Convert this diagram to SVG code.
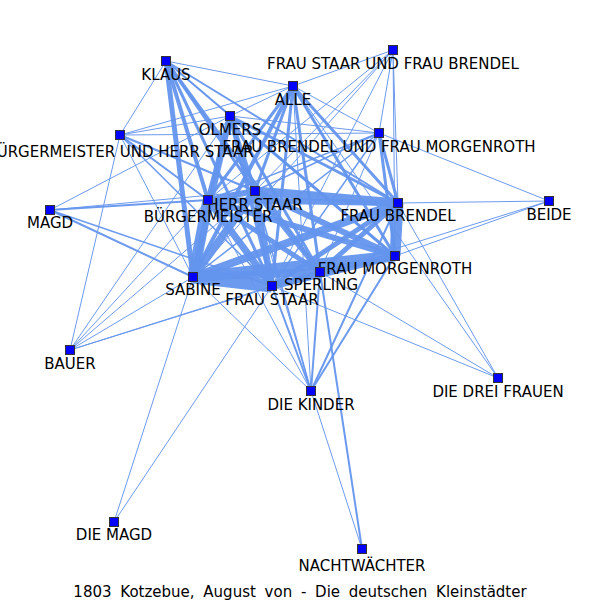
<svg xmlns="http://www.w3.org/2000/svg" width="600" height="600" viewBox="0 0 600 600">
<style>
.e line{stroke:#6495ED;stroke-opacity:0.95}
.n rect{fill:#0000ff;stroke:#333;stroke-width:1}
text{font-family:"DejaVu Sans","Liberation Sans",sans-serif;font-size:15px;fill:#000;text-anchor:middle}
</style>
<rect width="600" height="600" fill="#fff"/>
<g id="connectors" class="e">
<line x1="193" y1="277" x2="272" y2="286" stroke-width="13"/>
<line x1="193" y1="277" x2="208" y2="200" stroke-width="11"/>
<line x1="193" y1="277" x2="395" y2="256" stroke-width="11"/>
<line x1="193" y1="277" x2="398" y2="203" stroke-width="8"/>
<line x1="193" y1="277" x2="255" y2="191" stroke-width="8"/>
<line x1="193" y1="277" x2="320" y2="272" stroke-width="8"/>
<line x1="208" y1="200" x2="255" y2="191" stroke-width="6"/>
<line x1="208" y1="200" x2="398" y2="203" stroke-width="6"/>
<line x1="208" y1="200" x2="395" y2="256" stroke-width="6"/>
<line x1="208" y1="200" x2="272" y2="286" stroke-width="7"/>
<line x1="208" y1="200" x2="320" y2="272" stroke-width="5"/>
<line x1="255" y1="191" x2="398" y2="203" stroke-width="9"/>
<line x1="255" y1="191" x2="395" y2="256" stroke-width="6"/>
<line x1="255" y1="191" x2="272" y2="286" stroke-width="6"/>
<line x1="255" y1="191" x2="320" y2="272" stroke-width="5"/>
<line x1="398" y1="203" x2="395" y2="256" stroke-width="11"/>
<line x1="398" y1="203" x2="320" y2="272" stroke-width="5"/>
<line x1="398" y1="203" x2="272" y2="286" stroke-width="5"/>
<line x1="395" y1="256" x2="272" y2="286" stroke-width="7"/>
<line x1="395" y1="256" x2="320" y2="272" stroke-width="5"/>
<line x1="272" y1="286" x2="320" y2="272" stroke-width="4"/>
<line x1="230" y1="116" x2="208" y2="200" stroke-width="5"/>
<line x1="230" y1="116" x2="255" y2="191" stroke-width="4"/>
<line x1="230" y1="116" x2="193" y2="277" stroke-width="6"/>
<line x1="230" y1="116" x2="272" y2="286" stroke-width="4"/>
<line x1="230" y1="116" x2="320" y2="272" stroke-width="3"/>
<line x1="230" y1="116" x2="398" y2="203" stroke-width="3"/>
<line x1="230" y1="116" x2="395" y2="256" stroke-width="3"/>
<line x1="230" y1="116" x2="293" y2="86" stroke-width="1"/>
<line x1="230" y1="116" x2="166" y2="61" stroke-width="1"/>
<line x1="166" y1="61" x2="208" y2="200" stroke-width="4"/>
<line x1="166" y1="61" x2="255" y2="191" stroke-width="3"/>
<line x1="166" y1="61" x2="193" y2="277" stroke-width="5"/>
<line x1="166" y1="61" x2="272" y2="286" stroke-width="3"/>
<line x1="166" y1="61" x2="320" y2="272" stroke-width="3"/>
<line x1="166" y1="61" x2="395" y2="256" stroke-width="2"/>
<line x1="166" y1="61" x2="398" y2="203" stroke-width="2"/>
<line x1="166" y1="61" x2="293" y2="86" stroke-width="1"/>
<line x1="166" y1="61" x2="120" y2="135" stroke-width="1"/>
<line x1="293" y1="86" x2="208" y2="200" stroke-width="3"/>
<line x1="293" y1="86" x2="255" y2="191" stroke-width="3"/>
<line x1="293" y1="86" x2="193" y2="277" stroke-width="4"/>
<line x1="293" y1="86" x2="272" y2="286" stroke-width="3"/>
<line x1="293" y1="86" x2="320" y2="272" stroke-width="3"/>
<line x1="293" y1="86" x2="395" y2="256" stroke-width="3"/>
<line x1="293" y1="86" x2="398" y2="203" stroke-width="3"/>
<line x1="293" y1="86" x2="379" y2="133" stroke-width="1"/>
<line x1="293" y1="86" x2="393" y2="50" stroke-width="1"/>
<line x1="293" y1="86" x2="120" y2="135" stroke-width="1"/>
<line x1="293" y1="86" x2="311" y2="391" stroke-width="1"/>
<line x1="293" y1="86" x2="498" y2="378" stroke-width="1"/>
<line x1="120" y1="135" x2="208" y2="200" stroke-width="2"/>
<line x1="120" y1="135" x2="255" y2="191" stroke-width="2"/>
<line x1="120" y1="135" x2="193" y2="277" stroke-width="1"/>
<line x1="120" y1="135" x2="272" y2="286" stroke-width="1.5"/>
<line x1="120" y1="135" x2="230" y2="116" stroke-width="1"/>
<line x1="120" y1="135" x2="379" y2="133" stroke-width="1"/>
<line x1="120" y1="135" x2="70" y2="350" stroke-width="1"/>
<line x1="379" y1="133" x2="398" y2="203" stroke-width="3"/>
<line x1="379" y1="133" x2="395" y2="256" stroke-width="3"/>
<line x1="379" y1="133" x2="255" y2="191" stroke-width="1.5"/>
<line x1="379" y1="133" x2="208" y2="200" stroke-width="1.5"/>
<line x1="379" y1="133" x2="193" y2="277" stroke-width="1.5"/>
<line x1="379" y1="133" x2="272" y2="286" stroke-width="1.5"/>
<line x1="379" y1="133" x2="320" y2="272" stroke-width="1"/>
<line x1="379" y1="133" x2="549" y2="201" stroke-width="1"/>
<line x1="379" y1="133" x2="230" y2="116" stroke-width="1"/>
<line x1="393" y1="50" x2="398" y2="203" stroke-width="1"/>
<line x1="393" y1="50" x2="395" y2="256" stroke-width="1"/>
<line x1="393" y1="50" x2="379" y2="133" stroke-width="1"/>
<line x1="393" y1="50" x2="255" y2="191" stroke-width="1"/>
<line x1="393" y1="50" x2="193" y2="277" stroke-width="1"/>
<line x1="393" y1="50" x2="272" y2="286" stroke-width="1"/>
<line x1="393" y1="50" x2="208" y2="200" stroke-width="1"/>
<line x1="50" y1="210" x2="208" y2="200" stroke-width="2"/>
<line x1="50" y1="210" x2="255" y2="191" stroke-width="1"/>
<line x1="50" y1="210" x2="193" y2="277" stroke-width="2"/>
<line x1="50" y1="210" x2="272" y2="286" stroke-width="1.5"/>
<line x1="50" y1="210" x2="230" y2="116" stroke-width="1"/>
<line x1="70" y1="350" x2="208" y2="200" stroke-width="1"/>
<line x1="70" y1="350" x2="255" y2="191" stroke-width="1"/>
<line x1="70" y1="350" x2="193" y2="277" stroke-width="1"/>
<line x1="70" y1="350" x2="272" y2="286" stroke-width="1"/>
<line x1="70" y1="350" x2="320" y2="272" stroke-width="1"/>
<line x1="70" y1="350" x2="230" y2="116" stroke-width="1"/>
<line x1="549" y1="201" x2="398" y2="203" stroke-width="1"/>
<line x1="549" y1="201" x2="395" y2="256" stroke-width="1"/>
<line x1="549" y1="201" x2="320" y2="272" stroke-width="1"/>
<line x1="498" y1="378" x2="398" y2="203" stroke-width="1"/>
<line x1="498" y1="378" x2="320" y2="272" stroke-width="1"/>
<line x1="498" y1="378" x2="272" y2="286" stroke-width="1"/>
<line x1="311" y1="391" x2="395" y2="256" stroke-width="2"/>
<line x1="311" y1="391" x2="398" y2="203" stroke-width="2"/>
<line x1="311" y1="391" x2="320" y2="272" stroke-width="2"/>
<line x1="311" y1="391" x2="272" y2="286" stroke-width="2"/>
<line x1="311" y1="391" x2="255" y2="191" stroke-width="1.5"/>
<line x1="311" y1="391" x2="193" y2="277" stroke-width="1"/>
<line x1="311" y1="391" x2="230" y2="116" stroke-width="1"/>
<line x1="311" y1="391" x2="208" y2="200" stroke-width="1"/>
<line x1="114" y1="522" x2="193" y2="277" stroke-width="1"/>
<line x1="114" y1="522" x2="272" y2="286" stroke-width="1"/>
<line x1="362" y1="549" x2="320" y2="272" stroke-width="2"/>
<line x1="362" y1="549" x2="311" y2="391" stroke-width="1"/>
</g>
<g id="node-klaus" class="n"><rect x="161.5" y="56.5" width="9" height="9"/><text x="166" y="80">KLAUS</text></g>
<g id="node-alle" class="n"><rect x="288.5" y="81.5" width="9" height="9"/><text x="293" y="105">ALLE</text></g>
<g id="node-frau-staar-und-frau-brendel" class="n"><rect x="388.5" y="45.5" width="9" height="9"/><text x="393" y="69">FRAU STAAR UND FRAU BRENDEL</text></g>
<g id="node-olmers" class="n"><rect x="225.5" y="111.5" width="9" height="9"/><text x="230" y="135">OLMERS</text></g>
<g id="node-buergermeister-und-herr-staar" class="n"><rect x="115.5" y="130.5" width="9" height="9"/><text x="120" y="157">BÜRGERMEISTER UND HERR STAAR</text></g>
<g id="node-frau-brendel-und-frau-morgenroth" class="n"><rect x="374.5" y="128.5" width="9" height="9"/><text x="379" y="152">FRAU BRENDEL UND FRAU MORGENROTH</text></g>
<g id="node-herr-staar" class="n"><rect x="250.5" y="186.5" width="9" height="9"/><text x="255" y="210">HERR STAAR</text></g>
<g id="node-buergermeister" class="n"><rect x="203.5" y="195.5" width="9" height="9"/><text x="208" y="222">BÜRGERMEISTER</text></g>
<g id="node-frau-brendel" class="n"><rect x="393.5" y="198.5" width="9" height="9"/><text x="398" y="221">FRAU BRENDEL</text></g>
<g id="node-beide" class="n"><rect x="544.5" y="196.5" width="9" height="9"/><text x="549" y="220">BEIDE</text></g>
<g id="node-magd" class="n"><rect x="45.5" y="205.5" width="9" height="9"/><text x="50" y="228">MAGD</text></g>
<g id="node-frau-morgenroth" class="n"><rect x="390.5" y="251.5" width="9" height="9"/><text x="395" y="274">FRAU MORGENROTH</text></g>
<g id="node-sperling" class="n"><rect x="315.5" y="267.5" width="9" height="9"/><text x="321" y="290">SPERLING</text></g>
<g id="node-sabine" class="n"><rect x="188.5" y="272.5" width="9" height="9"/><text x="193" y="295">SABINE</text></g>
<g id="node-frau-staar" class="n"><rect x="267.5" y="281.5" width="9" height="9"/><text x="272" y="305">FRAU STAAR</text></g>
<g id="node-bauer" class="n"><rect x="65.5" y="345.5" width="9" height="9"/><text x="70" y="369">BAUER</text></g>
<g id="node-die-drei-frauen" class="n"><rect x="493.5" y="373.5" width="9" height="9"/><text x="498" y="397">DIE DREI FRAUEN</text></g>
<g id="node-die-kinder" class="n"><rect x="306.5" y="386.5" width="9" height="9"/><text x="311" y="410">DIE KINDER</text></g>
<g id="node-die-magd" class="n"><rect x="109.5" y="517.5" width="9" height="9"/><text x="114" y="540">DIE MAGD</text></g>
<g id="node-nachtwaechter" class="n"><rect x="357.5" y="544.5" width="9" height="9"/><text x="362" y="571">NACHTWÄCHTER</text></g>
<text x="300" y="597" word-spacing="4">1803 Kotzebue, August von - Die deutschen Kleinstädter</text>
</svg>
